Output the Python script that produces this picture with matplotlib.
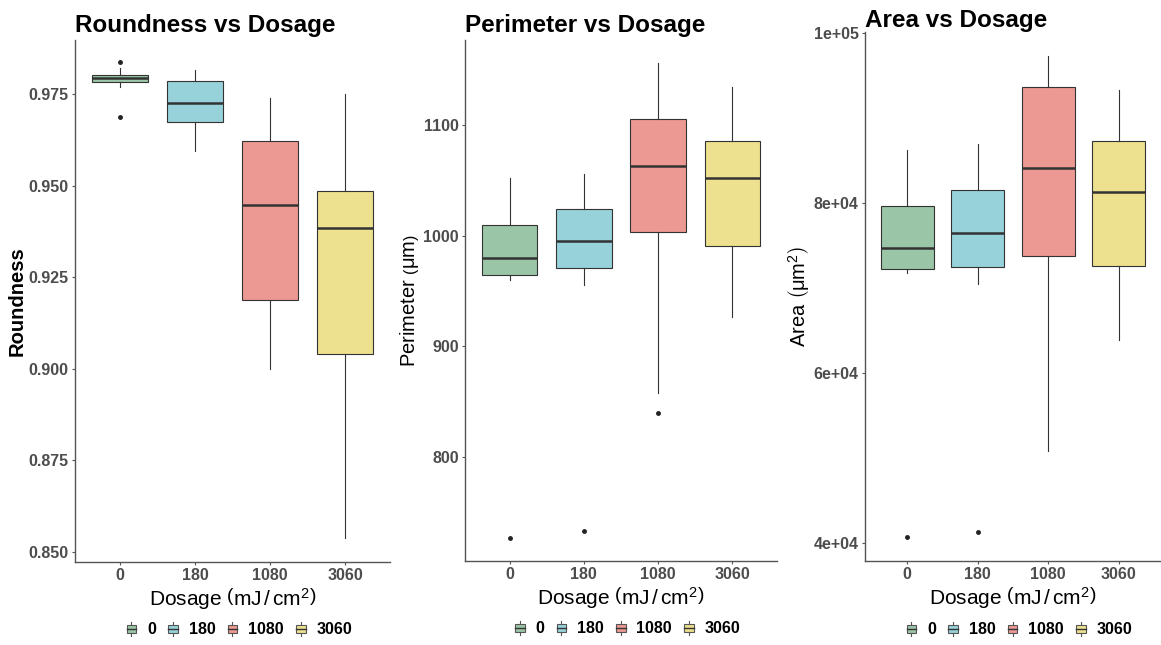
import matplotlib
matplotlib.use("Agg")
import matplotlib.pyplot as plt
from matplotlib.patches import Rectangle
from matplotlib.lines import Line2D
from matplotlib.legend_handler import HandlerBase

plt.rcParams['font.family'] = ['Liberation Sans', 'DejaVu Sans']
plt.rcParams['mathtext.fontset'] = 'custom'
plt.rcParams['mathtext.rm'] = 'Liberation Sans'
plt.rcParams['mathtext.it'] = 'Liberation Sans:italic'

# Groups and colours
dosages = ["0", "180", "1080", "3060"]
colors = ["#9AC5A6", "#97D2DA", "#EC9893", "#EDE18F"]

# Box statistics: (whislo, q1, med, q3, whishi)
round_stats = [(0.9769, 0.9783, 0.9794, 0.9802, 0.9821),
               (0.9594, 0.9674, 0.9725, 0.9785, 0.9816),
               (0.9000, 0.9187, 0.9448, 0.9622, 0.9739),
               (0.8538, 0.9041, 0.9383, 0.9484, 0.9750)]
round_fliers = [[0.9837, 0.9687], [], [], []]

perim_stats = [(960.3, 964.8, 980.1, 1009.9, 1052.4),
               (955.7, 971.1, 995.5, 1024.4, 1056.0),
               (857.8, 1003.6, 1063.2, 1105.4, 1156.0),
               (927.0, 991.0, 1052.4, 1085.8, 1134.5)]
perim_fliers = [[726.8], [733.2], [839.7], []]

area_stats = [(71700, 72260, 74720, 79650, 86220),
              (70500, 72490, 76480, 81520, 86920),
              (50790, 73780, 84110, 93610, 97240),
              (63810, 72610, 81290, 87270, 93260)]
area_fliers = [[40700], [41290], [], []]

round_ticks = [0.850, 0.875, 0.900, 0.925, 0.950, 0.975]
perim_ticks = [800, 900, 1000, 1100]
area_ticks = [40000, 60000, 80000, 100000]
area_ticklabels = ["4e+04", "6e+04", "8e+04", "1e+05"]

XLABEL = r"Dosage $\left(\mathrm{mJ\,/\,cm^2}\right)$"


class BoxKey(HandlerBase):
    def create_artists(self, legend, orig_handle, xdescent, ydescent,
                       width, height, fontsize, trans):
        cx = width / 2 - xdescent
        cy = height / 2 - ydescent
        bw, bh = width * 0.8, height * 0.6
        vline = Line2D([cx, cx], [cy - height * 0.55, cy + height * 0.55],
                       color="#555555", lw=0.8, transform=trans)
        rect = Rectangle((cx - bw / 2, cy - bh / 2), bw, bh,
                         facecolor=orig_handle.get_facecolor(),
                         edgecolor="#555555", lw=0.8, transform=trans)
        med = Line2D([cx - bw / 2, cx + bw / 2], [cy, cy],
                     color="#333333", lw=1.0, transform=trans)
        return [vline, rect, med]


def draw_panel(ax, stats, fliers, title, ylabel, ybold, ticks, ticklabels, ylim,
               title_pad=6):
    items = []
    for lab, s, f in zip(dosages, stats, fliers):
        items.append(dict(label=lab, whislo=s[0], q1=s[1], med=s[2],
                          q3=s[3], whishi=s[4], fliers=f))
    bp = ax.bxp(items, positions=[1, 2, 3, 4], widths=0.75, patch_artist=True,
                showcaps=False,
                boxprops=dict(edgecolor="#333333", lw=0.8),
                whiskerprops=dict(color="#333333", lw=0.8),
                medianprops=dict(color="#333333", lw=1.8),
                flierprops=dict(marker="o", markersize=2.5,
                                markerfacecolor="#222222",
                                markeredgecolor="#222222"))
    for patch, c in zip(bp["boxes"], colors):
        patch.set_facecolor(c)
    ax.set_xlim(0.4, 4.6)
    ax.set_ylim(*ylim)
    ax.set_yticks(ticks)
    ax.set_yticklabels(ticklabels)
    for sp in ["top", "right"]:
        ax.spines[sp].set_visible(False)
    for sp in ["left", "bottom"]:
        ax.spines[sp].set_color("#555555")
        ax.spines[sp].set_linewidth(1.0)
    ax.tick_params(axis="both", colors="#555555", length=2.5, width=0.8, pad=2,
                   labelsize=11.5, labelcolor="#4D4D4D")
    for t in ax.get_xticklabels() + ax.get_yticklabels():
        t.set_fontweight("bold")
    ax.set_title(title, loc="left", fontsize=17.5, fontweight="bold", pad=title_pad)
    ax.set_xlabel(XLABEL, fontsize=15, labelpad=2)
    ax.set_ylabel(ylabel, fontsize=14.5, fontweight="bold" if ybold else "normal",
                  labelpad=1.5)
    handles = [Rectangle((0, 0), 1, 1, facecolor=c) for c in colors]
    ax.legend(handles, dosages, loc="center", bbox_to_anchor=(0.52, -0.13),
              ncol=4, frameon=False, handler_map={Rectangle: BoxKey()},
              handlelength=0.75, handleheight=0.9, handletextpad=0.6,
              columnspacing=0.7, prop=dict(weight="bold", size=11.5))


fig = plt.figure(figsize=(11.61, 6.45), dpi=100)
ax1 = fig.add_axes([0.0646, 0.1287, 0.2713, 0.8093])
ax2 = fig.add_axes([0.4005, 0.1302, 0.2687, 0.8078])
ax3 = fig.add_axes([0.7450, 0.1302, 0.2550, 0.8202])

draw_panel(ax1, round_stats, round_fliers, "Roundness vs Dosage", "Roundness", True,
           round_ticks, ["%.3f" % v for v in round_ticks], (0.8473, 0.9897))
draw_panel(ax2, perim_stats, perim_fliers, "Perimeter vs Dosage",
           r"Perimeter $\left(\mathrm{\mu m}\right)$", False,
           perim_ticks, [str(v) for v in perim_ticks], (706, 1177))
draw_panel(ax3, area_stats, area_fliers, "Area vs Dosage",
           r"Area $\left(\mathrm{\mu m^2}\right)$", False,
           area_ticks, area_ticklabels, (37880, 100070), title_pad=0)

fig.savefig("out.png", dpi=100)
